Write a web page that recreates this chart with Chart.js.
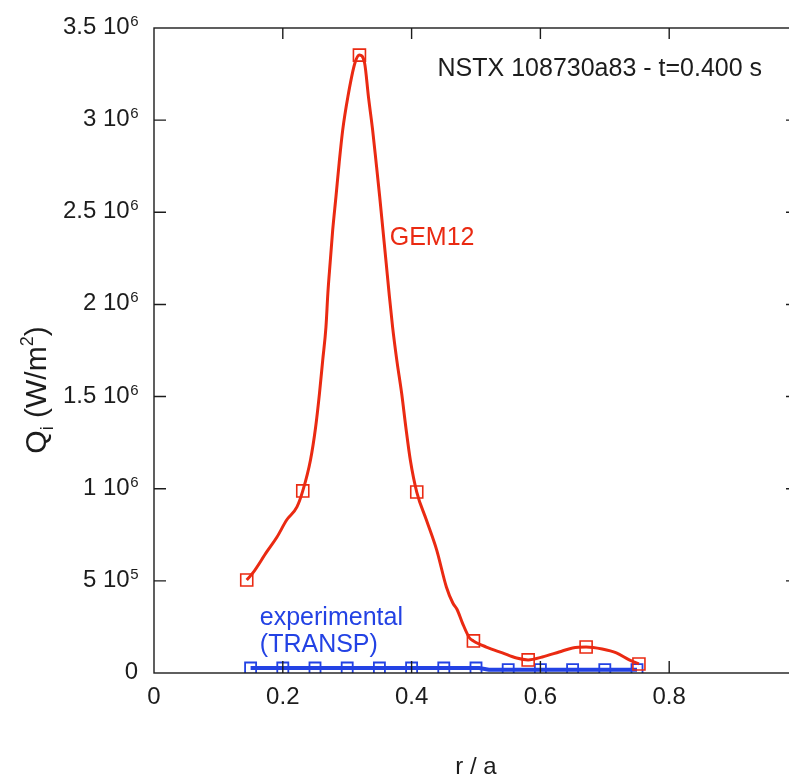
<!DOCTYPE html>
<html>
<head>
<meta charset="utf-8">
<title>NSTX 108730a83 - Qi profile</title>
<script src="https://cdn.jsdelivr.net/npm/chart.js@4.4.0/dist/chart.umd.min.js"></script>
<style>
  html, body { margin: 0; padding: 0; overflow: hidden; background: #fff; }
  #wrap { width: 789px; height: 779px; overflow: hidden; }
  canvas { display: block; }
</style>
</head>
<body>
<div id="wrap"><canvas id="qiChart" width="810" height="779"></canvas></div>
<script>
// GEM12 curve (r/a, Qi in W/m2)
const gemR = [0.144, 0.1535, 0.175, 0.191, 0.206, 0.222, 0.231, 0.243, 0.251, 0.257,
  0.262, 0.267, 0.270, 0.2735, 0.2775, 0.2825, 0.2875, 0.293, 0.301, 0.312,
  0.319, 0.327, 0.333, 0.3395, 0.345, 0.3505, 0.3555, 0.3605, 0.365, 0.3705,
  0.377, 0.3845, 0.391, 0.398, 0.408, 0.423, 0.439, 0.454, 0.464, 0.471,
  0.479, 0.490, 0.496, 0.516, 0.541, 0.563, 0.581, 0.603, 0.629, 0.650,
  0.671, 0.696, 0.718, 0.738, 0.753];
const gemQ = [505e3, 543e3, 657e3, 738e3, 830e3, 901e3, 988e3, 1156e3, 1335e3, 1519e3,
  1698e3, 1877e3, 2062e3, 2225e3, 2404e3, 2583e3, 2767e3, 2946e3, 3126e3, 3310e3,
  3353e3, 3310e3, 3126e3, 2946e3, 2767e3, 2583e3, 2404e3, 2225e3, 2062e3, 1877e3,
  1698e3, 1519e3, 1335e3, 1156e3, 982e3, 830e3, 667e3, 467e3, 380e3, 342e3,
  271e3, 190e3, 174e3, 141e3, 109e3, 81e3, 71e3, 87e3, 114e3, 136e3,
  141e3, 130e3, 109e3, 71e3, 49e3];

// GEM12 symbols
const gemMarkR = [0.144, 0.231, 0.319, 0.408, 0.496, 0.581, 0.671, 0.753];
const gemMarkQ = [505e3, 988e3, 3353e3, 982e3, 174e3, 71e3, 141e3, 49e3];

// experimental (TRANSP)
const expR = [0.15, 0.2, 0.25, 0.3, 0.35, 0.4, 0.45, 0.5, 0.55, 0.6, 0.65, 0.7, 0.75];
const expQ = [27e3, 27e3, 27e3, 27e3, 27e3, 27e3, 27e3, 27e3, 18e3, 18e3, 18e3, 18e3, 18e3];
const expLineR = [0.15, 0.505, 0.52, 0.75];
const expLineQ = [27e3, 27e3, 18e3, 18e3];

// axes
const yTickVals = [0, 5e5, 1e6, 1.5e6, 2e6, 2.5e6, 3e6, 3.5e6];
const yTickBase = ["0", "5 10", "1 10", "1.5 10", "2 10", "2.5 10", "3 10", "3.5 10"];
const yTickExp = ["", "5", "6", "6", "6", "6", "6", "6"];
const xTickLabels = ["0", "0.2", "0.4", "0.6", "0.8", ""];

const RED = "#ea2a12";
const BLUE = "#2342e4";
const INK = "#1c1c1c";
const FONT = "'Liberation Sans', Arial, Helvetica, sans-serif";

const notes = [
  { text: "NSTX 108730a83 - t=0.400 s", r: 0.4403, q: 3.239e6, color: INK },
  { text: "GEM12", r: 0.366, q: 2.322e6, color: RED },
  { text: "experimental", r: 0.1643, q: 0.2605e6, color: BLUE },
  { text: "(TRANSP)", r: 0.1643, q: 0.114e6, color: BLUE }
];

function pts(xs, ys) {
  return xs.map((v, i) => ({ x: v, y: ys[i] }));
}

// frame with inward ticks, y labels with exponents, notes and the y title
const framePlugin = {
  id: "frame",
  afterDraw(chart) {
    const { ctx, chartArea: a, scales: { x, y } } = chart;
    ctx.save();
    ctx.strokeStyle = INK;
    ctx.lineWidth = 1.4;
    ctx.strokeRect(a.left, a.top, a.right - a.left, a.bottom - a.top);
    ctx.beginPath();
    x.ticks.forEach(t => {
      if (t.value <= 0 || t.value >= 1) return;
      const px = x.getPixelForValue(t.value);
      ctx.moveTo(px, a.bottom); ctx.lineTo(px, a.bottom - 12);
      ctx.moveTo(px, a.top); ctx.lineTo(px, a.top + 11);
    });
    y.ticks.forEach(t => {
      if (t.value <= 0 || t.value >= 3.5e6) return;
      const py = y.getPixelForValue(t.value);
      ctx.moveTo(a.left, py); ctx.lineTo(a.left + 12, py);
      ctx.moveTo(a.right, py); ctx.lineTo(a.right - 12, py);
    });
    ctx.stroke();

    // y tick labels: "m 10^e"
    ctx.fillStyle = INK;
    ctx.textBaseline = "alphabetic";
    ctx.textAlign = "left";
    yTickVals.forEach((v, i) => {
      const py = y.getPixelForValue(v) + 6;
      ctx.font = "15px " + FONT;
      const ew = yTickExp[i] ? ctx.measureText(yTickExp[i]).width : 0;
      ctx.font = "24px " + FONT;
      const bw = ctx.measureText(yTickBase[i]).width;
      const right = a.left - 16;
      ctx.fillText(yTickBase[i], right - ew - bw, py);
      if (ew) {
        ctx.font = "15px " + FONT;
        ctx.fillText(yTickExp[i], right - ew + 0.5, py - 8);
      }
    });

    ctx.font = "25px " + FONT;
    notes.forEach(n => {
      ctx.fillStyle = n.color;
      ctx.fillText(n.text, x.getPixelForValue(n.r), y.getPixelForValue(n.q));
    });

    // Q_i (W/m^2), rotated
    const big = "30px " + FONT, small = "18px " + FONT;
    const parts = [
      { s: "Q", f: big, dy: 0 },
      { s: "i", f: small, dy: 7 },
      { s: " (W/m", f: big, dy: 0 },
      { s: "2", f: small, dy: -13 },
      { s: ")", f: big, dy: 0 }
    ];
    let total = 0;
    parts.forEach(p => { ctx.font = p.f; p.w = ctx.measureText(p.s).width; total += p.w; });
    ctx.translate(46, 390);
    ctx.rotate(-Math.PI / 2);
    ctx.fillStyle = INK;
    let cx = -total / 2;
    parts.forEach(p => {
      ctx.font = p.f;
      ctx.fillText(p.s, cx, p.dy);
      cx += p.w;
    });
    ctx.restore();
  }
};

Chart.defaults.font.family = FONT;
Chart.defaults.color = INK;

new Chart(document.getElementById("qiChart"), {
  type: "line",
  data: {
    datasets: [
      {
        data: pts(gemR, gemQ),
        borderColor: RED,
        borderWidth: 3,
        pointRadius: 0,
        cubicInterpolationMode: "monotone"
      },
      {
        data: pts(gemMarkR, gemMarkQ),
        showLine: false,
        pointStyle: "rect",
        pointRadius: 8.5,
        pointBorderWidth: 1.6,
        pointBorderColor: RED,
        pointBackgroundColor: "rgba(0,0,0,0)"
      },
      {
        data: pts(expLineR, expLineQ),
        borderColor: BLUE,
        borderWidth: 4,
        pointRadius: 0,
        tension: 0
      },
      {
        data: pts(expR, expQ),
        showLine: false,
        pointStyle: "rect",
        pointRadius: 7.8,
        pointBorderWidth: 1.8,
        pointBorderColor: BLUE,
        pointBackgroundColor: "rgba(0,0,0,0)"
      }
    ]
  },
  options: {
    responsive: false,
    animation: false,
    devicePixelRatio: 1,
    layout: { padding: { left: 0, top: 28, right: 12, bottom: 0 } },
    plugins: { legend: { display: false }, tooltip: { enabled: false } },
    scales: {
      x: {
        type: "linear",
        min: 0,
        max: 1,
        grid: { display: false, drawTicks: false },
        border: { display: false },
        ticks: {
          stepSize: 0.2,
          autoSkip: false,
          maxRotation: 0,
          padding: 10,
          color: INK,
          font: { size: 24 },
          callback: (v, i) => xTickLabels[i]
        },
        title: {
          display: true,
          text: "r / a",
          color: INK,
          font: { size: 24, lineHeight: 1 },
          padding: { top: 0, bottom: 0 }
        },
        afterFit(scale) { scale.height = 106; }
      },
      y: {
        type: "linear",
        min: 0,
        max: 3.5e6,
        grid: { display: false, drawTicks: false },
        border: { display: false },
        afterBuildTicks(scale) { scale.ticks = yTickVals.map(v => ({ value: v })); },
        ticks: { display: false },
        afterFit(scale) { scale.width = 154; }
      }
    }
  },
  plugins: [framePlugin]
});
</script>
</body>
</html>
